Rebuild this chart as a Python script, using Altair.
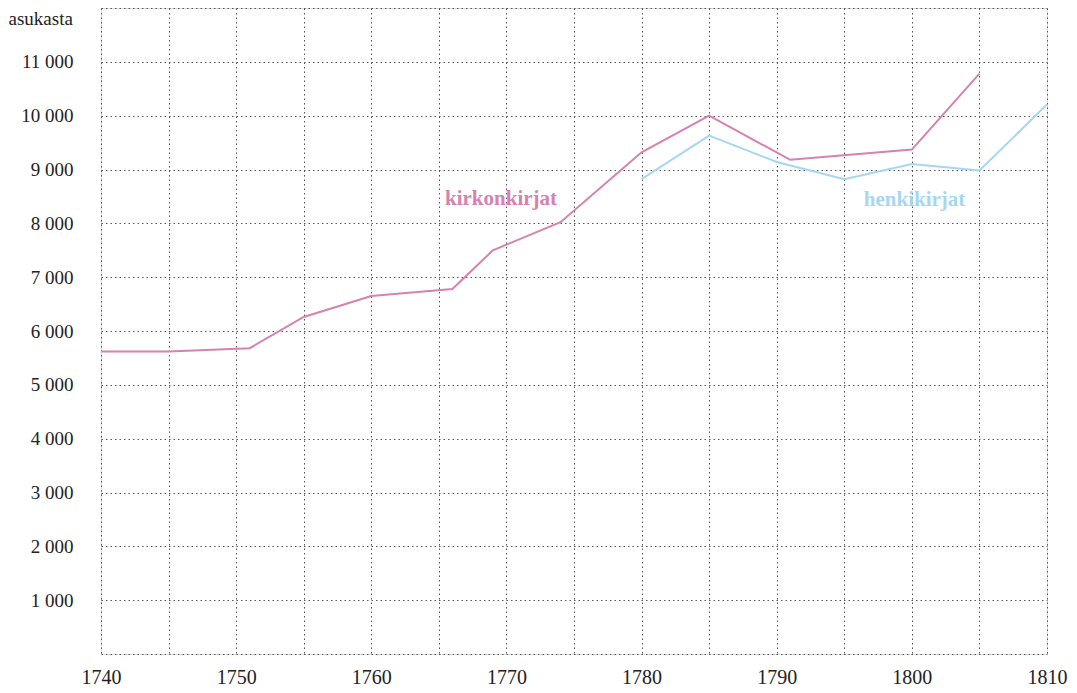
import altair as alt
import pandas as pd

# kirkonkirjat (church records)
kirkko_years = [1740, 1745, 1751, 1755, 1760, 1766, 1769, 1774, 1780, 1785, 1791, 1800, 1805]
kirkko_values = [5620, 5620, 5680, 6260, 6650, 6780, 7500, 8020, 9320, 10000, 9180, 9370, 10780]

# henkikirjat (tax records)
henki_years = [1780, 1785, 1790, 1795, 1800, 1805, 1810]
henki_values = [8820, 9630, 9140, 8820, 9100, 8980, 10210]

series_names = ["kirkonkirjat", "henkikirjat"]
series_colors = ["#d682b0", "#a6d7f1"]

label_years = [1769.6, 1800.2]
label_values = [8460, 8440]

rows = []
for y, v in zip(kirkko_years, kirkko_values):
    rows.append({"vuosi": y, "asukasta": v, "sarja": series_names[0]})
for y, v in zip(henki_years, henki_values):
    rows.append({"vuosi": y, "asukasta": v, "sarja": series_names[1]})
df = pd.DataFrame(rows)

labels_df = pd.DataFrame({"vuosi": label_years, "asukasta": label_values, "sarja": series_names})

FONT = "Liberation Serif"

x_scale = alt.Scale(domain=[1740, 1810], nice=False, zero=False)
y_scale = alt.Scale(domain=[0, 12000], nice=False)
color_scale = alt.Scale(domain=series_names, range=series_colors)

x_axis = alt.Axis(
    values=list(range(1740, 1811, 5)),
    labelExpr="datum.value % 10 == 0 ? format(datum.value, 'd') : ''",
    grid=True, gridDash=[1.5, 3], gridColor="#555555", gridWidth=1,
    ticks=False, domain=False, labelFontSize=20, labelFont=FONT,
    labelColor="#222222", labelPadding=13, title=None, labelFlush=False,
)
y_axis = alt.Axis(
    values=list(range(0, 12001, 1000)),
    labelExpr="datum.value == 0 || datum.value == 12000 ? '' : replace(format(datum.value, ','), ',', ' ')",
    grid=True, gridDash=[1.5, 3], gridColor="#555555", gridWidth=1,
    ticks=False, domain=False, labelFontSize=19, labelFont=FONT,
    labelColor="#222222", labelPadding=28,
    title="asukasta", titleAngle=0, titleAlign="left", titleBaseline="middle",
    titleX=-93, titleY=10, titleFont=FONT, titleFontSize=19, titleFontWeight="normal",
    titleColor="#222222",
)

lines = alt.Chart(df).mark_line(strokeWidth=2).encode(
    x=alt.X("vuosi:Q", scale=x_scale, axis=x_axis),
    y=alt.Y("asukasta:Q", scale=y_scale, axis=y_axis),
    color=alt.Color("sarja:N", scale=color_scale, legend=None),
    detail="sarja:N",
)

texts = alt.Chart(labels_df).mark_text(
    font=FONT, fontSize=21, fontWeight="bold", align="center", baseline="middle"
).encode(
    x=alt.X("vuosi:Q", scale=x_scale),
    y=alt.Y("asukasta:Q", scale=y_scale),
    text="sarja:N",
    color=alt.Color("sarja:N", scale=color_scale, legend=None),
)

chart = (lines + texts).properties(
    width=946, height=646,
    autosize=alt.AutoSizeParams(type="none"),
    padding={"left": 93, "top": 0, "right": 22, "bottom": 38},
).configure_view(stroke="#111111", strokeWidth=1.5).configure(background="white")

chart.save("out.html", embed_options={"renderer": "svg", "actions": False})
